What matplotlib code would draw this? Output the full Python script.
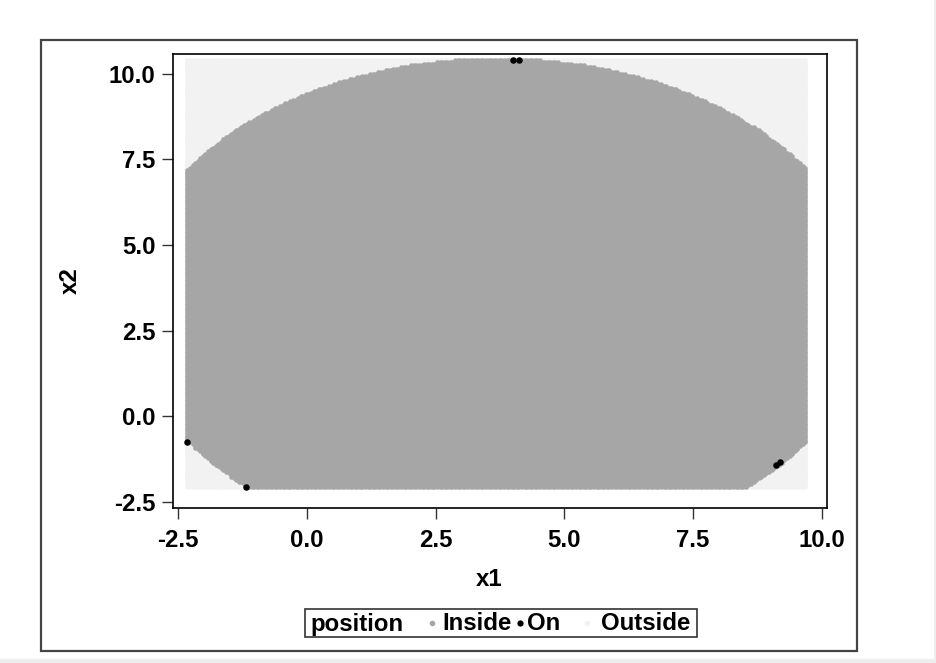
import numpy as np
import matplotlib
matplotlib.use("Agg")
import matplotlib.pyplot as plt
from matplotlib.patches import Rectangle

plt.rcParams['font.family'] = ['Liberation Sans', 'DejaVu Sans']
plt.rcParams['font.weight'] = 'bold'
plt.rcParams['axes.unicode_minus'] = False

# ---- data ----
x1_min, x1_max, x1_n = -2.32, 9.68, 241      # grid of x1 values
x2_min, x2_max, x2_n = -2.06, 10.40, 250     # grid of x2 values
center = (3.70, 3.25)                        # centre of the region
radius = 7.20                                # radius of the region
on_x1 = [-2.33, -1.18, 4.01, 4.13, 9.12, 9.20]
on_x2 = [-0.74, -2.05, 10.41, 10.41, -1.41, -1.33]
x_ticks = [-2.5, 0.0, 2.5, 5.0, 7.5, 10.0]
y_ticks = [-2.5, 0.0, 2.5, 5.0, 7.5, 10.0]
categories = ['Inside', 'On', 'Outside']
colors = {'Inside': '#a6a6a6', 'On': '#000000', 'Outside': '#f2f2f2'}

gx, gy = np.meshgrid(np.linspace(x1_min, x1_max, x1_n),
                     np.linspace(x2_min, x2_max, x2_n))
gx = gx.ravel(); gy = gy.ravel()
dist = np.hypot(gx - center[0], gy - center[1])
inside = dist < radius

FS = 17.3
W, H = 937, 663
fig = plt.figure(figsize=(W / 100, H / 100), dpi=100)
fig.patch.set_facecolor('white')

ax = fig.add_axes([173 / W, 1 - 508 / H, (826.7 - 173) / W, (508 - 54) / H])
ax.scatter(gx[~inside], gy[~inside], s=10.5, c=colors['Outside'], linewidths=0, zorder=2)
ax.scatter(gx[inside], gy[inside], s=10.5, c=colors['Inside'], linewidths=0, zorder=3)
ax.scatter(on_x1, on_x2, s=22, c=colors['On'], linewidths=0, zorder=4)

ax.set_xlim(-2.60, 10.10)
ax.set_ylim(-2.675, 10.58)
ax.set_xticks(x_ticks)
ax.set_yticks(y_ticks)
ax.set_xticklabels([f'{v:.1f}' for v in x_ticks])
ax.set_yticklabels([f'{v:.1f}' for v in y_ticks])
ax.tick_params(labelsize=FS, length=8, width=1, color='#333333')
ax.tick_params(axis='x', pad=7)
ax.tick_params(axis='y', pad=4.5)
for sp in ax.spines.values():
    sp.set_linewidth(1.2)
    sp.set_color('black')

# overlay in pixel coordinates for frame, labels and legend
ov = fig.add_axes([0, 0, 1, 1], zorder=10)
ov.set_xlim(0, W); ov.set_ylim(H, 0); ov.axis('off')
ov.patch.set_alpha(0)
ov.add_patch(Rectangle((41, 40), 816, 611, fill=False, ec='#444444', lw=1.6))
ov.add_patch(Rectangle((0, 659), W, 4, fc='#eeeeee', ec='none'))
ov.add_patch(Rectangle((934, 0), 3, H, fc='#eeeeee', ec='none'))

ov.text(489, 580, 'x1', ha='center', va='center', fontsize=FS, fontweight='bold')
ov.text(70, 281, 'x2', ha='center', va='center', fontsize=FS, fontweight='bold', rotation=90)

# legend
BASE = 630.5
ov.add_patch(Rectangle((305, 608.5), 392, 28, fill=False, ec='#333333', lw=1.2))
ov.text(310, BASE, 'position', ha='left', va='baseline', fontsize=FS)
leg_x_marker = [431.7, 520, 586.7]
leg_x_text = [442, 527, 601]
for cat, mx, tx in zip(categories, leg_x_marker, leg_x_text):
    ov.plot([mx], [623], 'o', ms=4 if cat != 'On' else 4.5, color=colors[cat], mec='none')
    ov.text(tx, BASE, cat, ha='left', va='baseline', fontsize=FS)

fig.savefig('out.png', dpi=100)
